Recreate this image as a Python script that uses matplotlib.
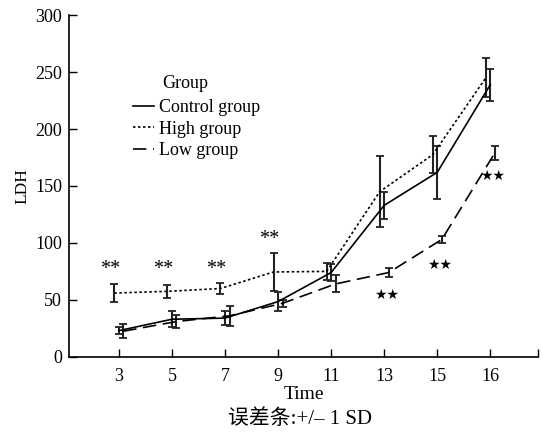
import matplotlib
matplotlib.use('Agg')
import matplotlib.pyplot as plt
import numpy as np

plt.rcParams['font.family'] = ['Liberation Serif', 'Noto Sans CJK SC', 'DejaVu Sans']

# ===== 数据 =====
times = ['3', '5', '7', '9', '11', '13', '15', '16']
control_mean = [23, 33, 34, 48.5, 74, 133, 162, 239]
control_sd = [3, 7, 6, 8, 7.5, 12, 23.5, 14]
high_mean = [56, 57.5, 60, 74.5, 75, 145, 177.5, 245]
high_sd = [8, 5.5, 4.5, 16.5, 7.5, 31, 16, 17]
low_mean = [22.5, 31, 36, 47, 64, 74, 103, 179]
low_sd = [6, 6, 8.5, 3, 7.5, 4, 3, 6]

# 显著性标记
sig_high_idx = [0, 1, 2, 3]
sig_high_y = [76.5, 76.5, 76.5, 103]
sig_low_idx = [5, 6, 7]
sig_low_y = [54, 81, 159]

x = np.arange(1, len(times) + 1)
off = 0.085

fig = plt.figure(figsize=(5.43, 4.32), dpi=100)
ax = fig.add_axes([0.127, 0.174, 0.864, 0.791])

ekw = dict(ecolor='#222222', elinewidth=1.5, capsize=2.6, capthick=1.3)
ax.errorbar(x, control_mean, yerr=control_sd, color='black', lw=1.2,
            ls='-', label='Control group', **ekw)
ax.errorbar(x - off, high_mean, yerr=high_sd, color='black', lw=1.2,
            ls=(0, (1.5, 1.5)), label='High group', **ekw)
ax.errorbar(x + off, low_mean, yerr=low_sd, color='black', lw=1.2,
            ls=(0, (8, 4)), label='Low group', **ekw)

for i, yv in zip(sig_high_idx, sig_high_y):
    ax.text(x[i] - 0.17, yv, '**', ha='center', va='center', fontsize=14.5)
for i, yv in zip(sig_low_idx, sig_low_y):
    ax.text(x[i] + 0.05, yv, '★★', ha='center', va='center', fontsize=10,
            family=['DejaVu Sans'])

ax.set_xlim(0.06, 8.9)
ax.set_ylim(0, 300)
ax.set_xticks(x)
ax.set_xticklabels(times)
ax.set_xticks([8.9], minor=True)
ax.set_yticks([0, 50, 100, 150, 200, 250, 300])
ax.tick_params(axis='both', direction='in', length=6, width=1, labelsize=13)
ax.tick_params(axis='x', pad=8)
ax.tick_params(axis='x', which='minor', direction='in', length=6, width=1)
ax.tick_params(axis='y', pad=5)
for s in ['top', 'right']:
    ax.spines[s].set_visible(False)
for s in ['left', 'bottom']:
    ax.spines[s].set_linewidth(1.2)

ax.set_ylabel('LDH', fontsize=12.5, labelpad=3)
ax.set_xlabel('Time', fontsize=14, labelpad=1)
fig.text(0.553, 0.03, '误差条:+/– 1 SD', ha='center', va='center', fontsize=15)

handles, labels = ax.get_legend_handles_labels()
handles = [h[0] for h in handles]
ax.text(0.198, 0.801, 'Group', transform=ax.transAxes, ha='left', va='center',
        fontsize=13)
leg = ax.legend(handles, labels, frameon=False, fontsize=13,
                loc='upper left', bbox_to_anchor=(0.1215, 0.775),
                handlelength=1.17, handletextpad=0.28, labelspacing=0.25,
                borderaxespad=0)

plt.savefig('out.png', dpi=100)
